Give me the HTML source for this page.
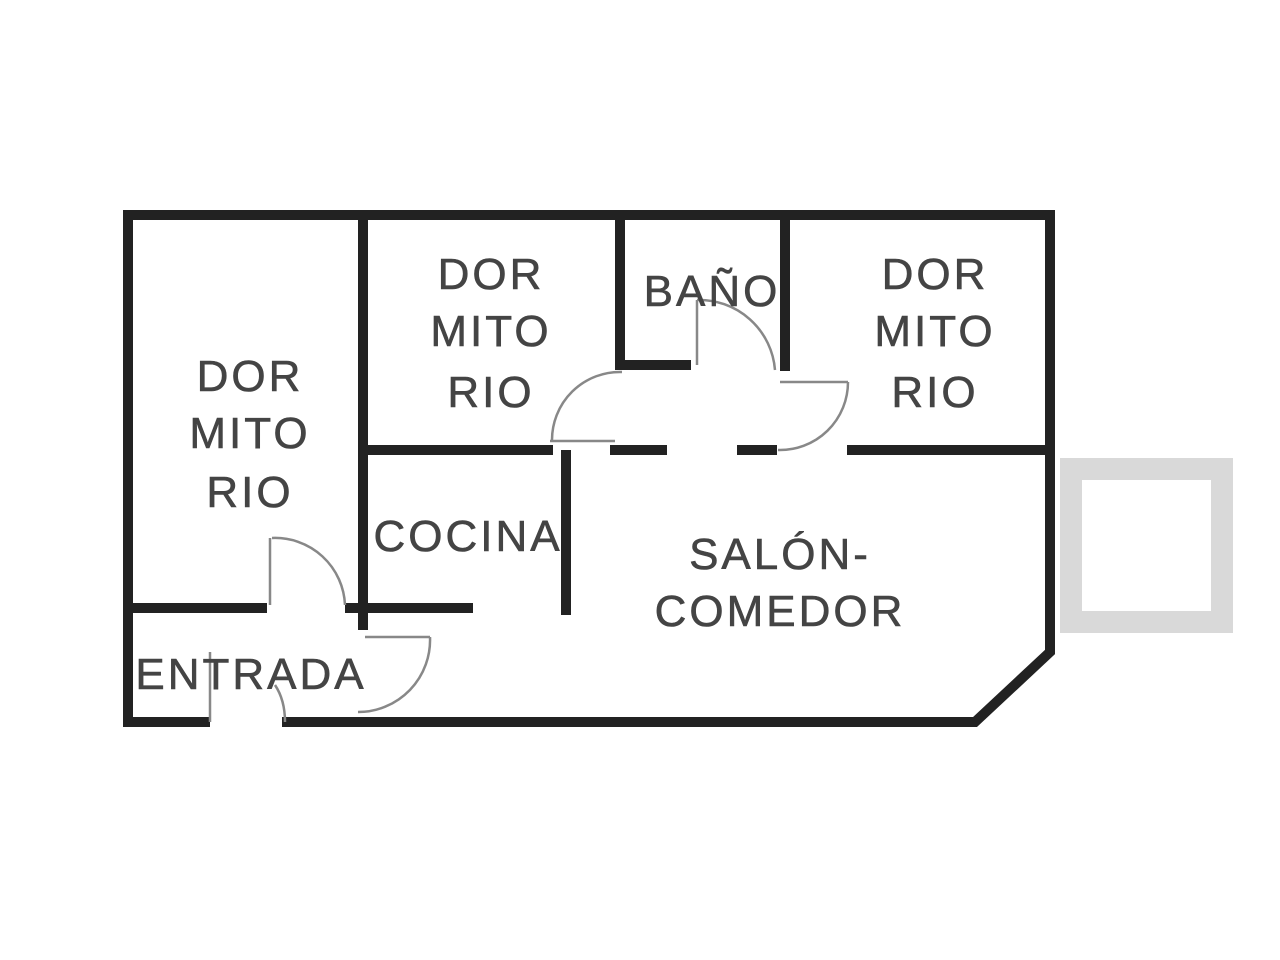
<!DOCTYPE html>
<html><head><style>body{margin:0;background:#fff}svg{display:block}text{font-family:"Liberation Sans",sans-serif;font-size:44px;letter-spacing:3px;fill:#444;stroke:#444;stroke-width:0.6;text-anchor:middle}</style></head><body>
<svg width="1280" height="960" viewBox="0 0 1280 960">
<rect x="1071" y="469" width="151" height="153" fill="none" stroke="#d9d9d9" stroke-width="22"/>
<g stroke="#222" stroke-width="10" fill="none" stroke-linecap="square">
<polyline points="205,722 128,722 128,215 1050,215 1050,652 975,722 287,722"/>
<line x1="363" y1="215" x2="363" y2="625"/>
<line x1="128" y1="608" x2="262" y2="608"/>
<line x1="350" y1="608" x2="468" y2="608"/>
<line x1="566" y1="455" x2="566" y2="610"/>
<line x1="363" y1="450" x2="548" y2="450"/>
<line x1="615" y1="450" x2="662" y2="450"/>
<line x1="742" y1="450" x2="772" y2="450"/>
<line x1="852" y1="450" x2="1050" y2="450"/>
<line x1="620" y1="215" x2="620" y2="365"/>
<line x1="785" y1="215" x2="785" y2="366"/>
<line x1="620" y1="365" x2="686" y2="365"/>
</g>
<g stroke="#888" stroke-width="2.5" fill="none">
<line x1="697" y1="300" x2="697" y2="365"/>
<path d="M697,300 A76,76 0 0 1 775,370"/>
<line x1="550" y1="441" x2="615" y2="441"/>
<path d="M552,441 A68,68 0 0 1 622,372"/>
<line x1="780" y1="382" x2="848" y2="382"/>
<path d="M848,382 A68,68 0 0 1 778,450"/>
<line x1="270" y1="538" x2="270" y2="605"/>
<path d="M272,538 A70,70 0 0 1 345,605"/>
<line x1="365" y1="637" x2="430" y2="637"/>
<path d="M430,637 A72,72 0 0 1 358,712"/>
<line x1="210" y1="652" x2="210" y2="722"/>
<path d="M275,685 Q285,700 285,722"/>
</g>
<text x="250" y="391">DOR</text><text x="250" y="448">MITO</text><text x="250" y="507">RIO</text>
<text x="491" y="289">DOR</text><text x="491" y="346">MITO</text><text x="491" y="407">RIO</text>
<text x="935" y="289">DOR</text><text x="935" y="346">MITO</text><text x="935" y="407">RIO</text>
<text x="712" y="306">BAÑO</text>
<text x="468" y="551">COCINA</text>
<text x="780" y="569">SALÓN-</text><text x="780" y="626">COMEDOR</text>
<text x="251" y="689">ENTRADA</text>
</svg></body></html>
